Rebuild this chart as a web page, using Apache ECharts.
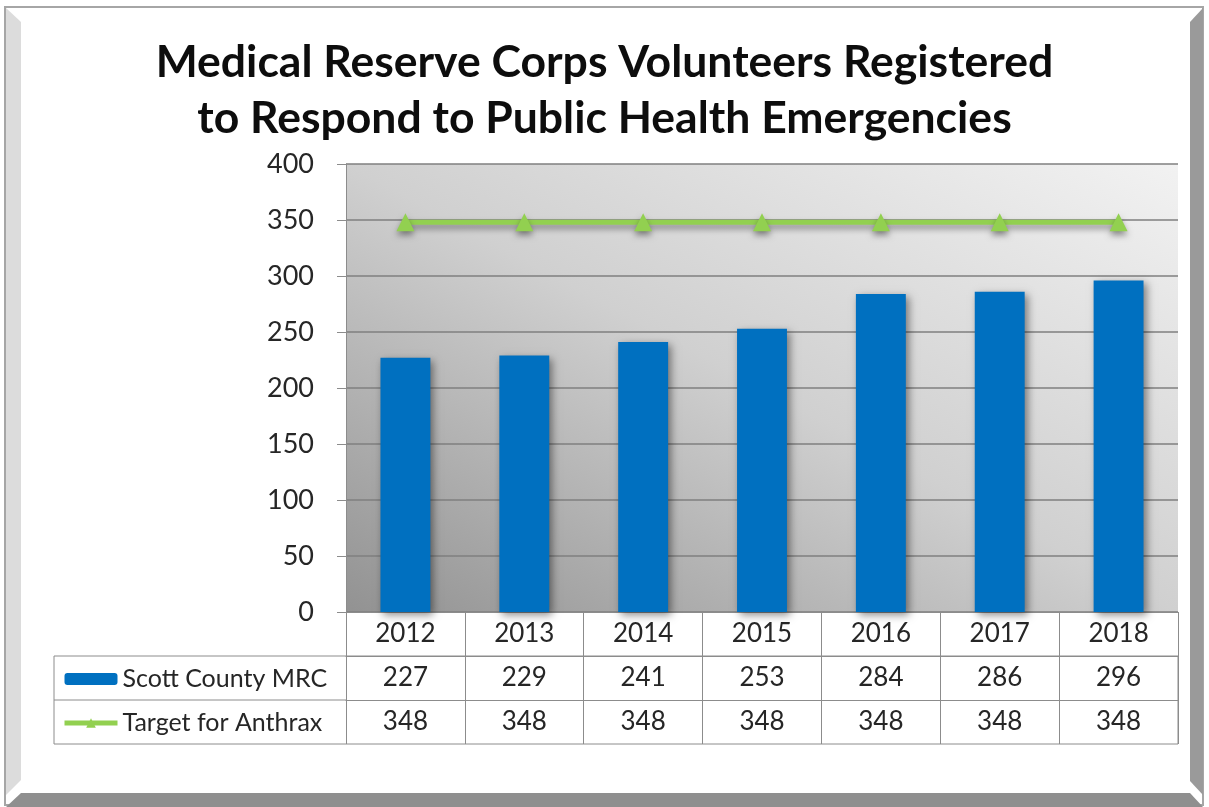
<!DOCTYPE html>
<html><head><meta charset="utf-8">
<script src="https://cdn.jsdelivr.net/npm/echarts@6/dist/echarts.min.js"></script>
<style>html,body{margin:0;padding:0;background:#fff}#c{width:1209px;height:807px}</style>
</head><body><div id="c"></div>
<script>
const years = ['2012','2013','2014','2015','2016','2017','2018'];
const mrcValues = [227, 229, 241, 253, 284, 286, 296];
const targetValues = [348, 348, 348, 348, 348, 348, 348];
const yTicks = [0, 50, 100, 150, 200, 250, 300, 350, 400];
const seriesNames = ['Scott County MRC', 'Target for Anthrax'];
const titleText = 'Medical Reserve Corps Volunteers Registered\nto Respond to Public Health Emergencies';

const FONT = 'Lato';
const chart = echarts.init(document.getElementById('c'), null, {renderer: 'canvas'});
const GL = 346, GR = 1178, GT = 164, GB = 612, ROW = 44;
const tableLine = '#8c8c8c';
const rowAxis = (offset, vals, show) => ({
  type: 'category', data: years, position: 'bottom', offset: offset, gridIndex: 0,
  axisLine: {show: true, lineStyle: {color: tableLine, width: 1}},
  axisTick: {show: show, length: ROW * 3, lineStyle: {color: tableLine, width: 1}},
  axisLabel: {margin: 22, fontFamily: FONT, fontSize: 26, color: '#262626', verticalAlign: 'middle',
    formatter: (v, i) => String(vals[i])},
  splitLine: {show: false}
});
const option = {
  backgroundColor: '#ffffff',
  animation: false,
  title: {text: titleText, left: 'center', top: 30,
    textStyle: {fontFamily: FONT, fontWeight: 'bold', fontSize: 44.5, lineHeight: 56, color: '#0d0d0d'}},
  grid: {left: GL, right: 1209 - GR, top: GT, bottom: 807 - GB, show: true, borderWidth: 0,
    backgroundColor: new echarts.graphic.LinearGradient(GL, GB, 720, -83, [
      {offset: 0, color: '#929292'}, {offset: 0.5, color: '#d0d0d0'}, {offset: 1, color: '#f2f2f2'}], true)},
  legend: {orient: 'vertical', left: 57, top: 661, itemGap: 18, itemWidth: 53, itemHeight: 12, itemStyle: {},
    textStyle: {fontFamily: FONT, fontSize: 25, color: '#262626', lineHeight: 26},
    data: [
      {name: seriesNames[0]},
      {name: seriesNames[1], lineStyle: {width: 5}}
    ]},
  xAxis: [
    rowAxis(0, years, true),
    rowAxis(ROW, mrcValues, false),
    rowAxis(ROW * 2, targetValues, false)
  ],
  yAxis: {type: 'value', min: 0, max: 400, interval: 50,
    axisLine: {show: true, lineStyle: {color: '#8c8c8c'}},
    axisTick: {show: true, length: 9, lineStyle: {color: '#8c8c8c'}},
    axisLabel: {margin: 32, fontFamily: FONT, fontSize: 27, color: '#262626',
      formatter: v => yTicks.includes(v) ? String(v) : ''},
    splitLine: {lineStyle: {color: '#7f7f7f', width: 1.5}}},
  series: [
    {name: seriesNames[0], type: 'bar', data: mrcValues, barWidth: '42%', xAxisIndex: 0,
      itemStyle: {color: '#0070c0', shadowColor: 'rgba(0,0,0,0.45)', shadowBlur: 8, shadowOffsetX: 3, shadowOffsetY: 3}},
    {name: seriesNames[1], type: 'line', data: targetValues, xAxisIndex: 0, symbol: 'triangle', symbolSize: 18,
      lineStyle: {color: '#92d050', width: 5, shadowColor: 'rgba(0,0,0,0.4)', shadowBlur: 6, shadowOffsetY: 4},
      itemStyle: {color: '#92d050', shadowColor: 'rgba(0,0,0,0.4)', shadowBlur: 6, shadowOffsetY: 4}}
  ],
  graphic: [
    {type: 'rect', shape: {x: 5, y: 7, width: 1198, height: 798}, style: {fill: '#fff', stroke: '#a6a6a6', lineWidth: 2}, z: -10},
    {type: 'polygon', shape: {points: [[6, 8], [21, 22], [21, 780], [6, 795]]}, style: {fill: '#dcdcdc'}, z: -9},
    {type: 'polygon', shape: {points: [[1203, 8], [1190, 22], [1190, 781], [1203, 795]]}, style: {fill: '#9a9a9a'}, z: -9},
    {type: 'polygon', shape: {points: [[6, 807], [21, 793], [1190, 793], [1203, 807]]}, style: {fill: '#8f8f8f'}, z: -9},
    {type: 'rect', shape: {x: 54, y: GB + ROW, width: GR - 54, height: ROW * 2}, style: {fill: 'none', stroke: tableLine, lineWidth: 1}, z: 5},
    {type: 'line', shape: {x1: 54, y1: GB + ROW * 2, x2: GL, y2: GB + ROW * 2}, style: {stroke: tableLine, lineWidth: 1}, z: 5}
  ]
};
chart.setOption(option);
</script></body></html>
